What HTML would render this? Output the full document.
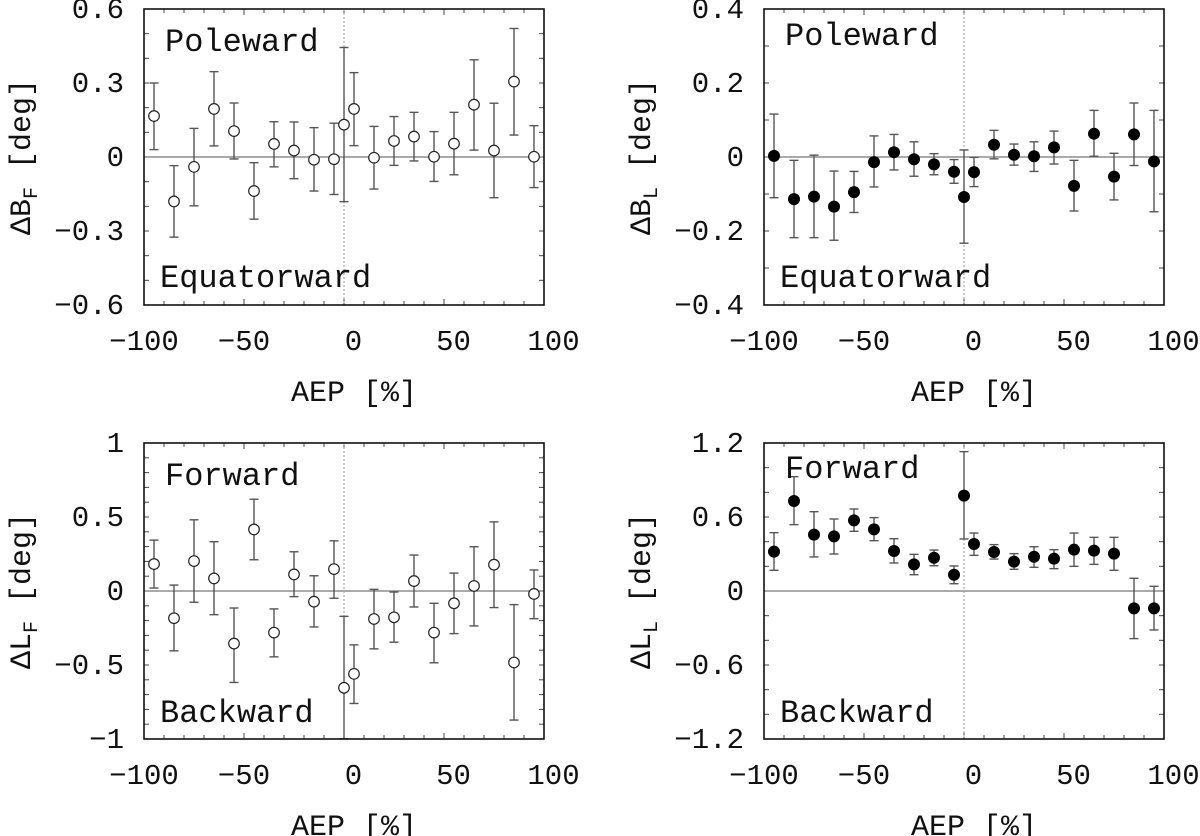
<!DOCTYPE html>
<html><head><meta charset="utf-8">
<style>
html,body{margin:0;padding:0;background:#fff;}
svg{display:block;}
text{font-family:"Liberation Mono","DejaVu Sans Mono",monospace;fill:#111;}
</style></head>
<body>
<svg id="fig" width="1200" height="836" viewBox="0 0 1200 836" xmlns="http://www.w3.org/2000/svg"></svg>
<script>
// Shared x categories (AEP %)
const aep = [-95,-85,-75,-65,-55,-45,-35,-25,-15,-5,0,5,15,25,35,45,55,65,75,85,95];
const xTicks = [-100,-50,0,50,100];

// Panel: Delta B_F (open circles)
const bfVal = [0.166,-0.18,-0.04,0.195,0.105,-0.138,0.053,0.026,-0.011,-0.009,0.131,0.195,-0.003,0.065,0.083,0.001,0.054,0.212,0.026,0.306,0.001];
const bfHi  = [0.30,-0.035,0.116,0.346,0.219,-0.023,0.143,0.142,0.119,0.137,0.444,0.342,0.124,0.164,0.181,0.103,0.181,0.394,0.218,0.521,0.127];
const bfLo  = [0.03,-0.325,-0.198,0.045,-0.008,-0.252,-0.04,-0.088,-0.138,-0.152,-0.181,0.046,-0.13,-0.034,-0.016,-0.099,-0.072,0.028,-0.165,0.089,-0.124];
const bfTicks = [0.6,0.3,0,-0.3,-0.6];
const bfTickLabels = ["0.6","0.3","0","\u22120.3","\u22120.6"];

// Panel: Delta B_L (filled)
const blVal = [0.003,-0.114,-0.107,-0.134,-0.095,-0.014,0.013,-0.006,-0.02,-0.04,-0.108,-0.041,0.033,0.006,0.002,0.026,-0.078,0.063,-0.053,0.061,-0.012];
const blHi  = [0.116,-0.009,0.005,-0.038,-0.039,0.057,0.061,0.041,0.009,-0.007,0.019,-0.001,0.072,0.035,0.041,0.07,-0.009,0.126,0.01,0.146,0.126];
const blLo  = [-0.11,-0.218,-0.218,-0.225,-0.15,-0.081,-0.035,-0.052,-0.048,-0.071,-0.233,-0.08,-0.005,-0.022,-0.039,-0.019,-0.146,0.002,-0.116,-0.023,-0.148];
const blTicks = [0.4,0.2,0,-0.2,-0.4];
const blTickLabels = ["0.4","0.2","0","\u22120.2","\u22120.4"];

// Panel: Delta L_F (open circles)
const lfVal = [0.182,-0.184,0.202,0.085,-0.355,0.416,-0.281,0.112,-0.072,0.148,-0.654,-0.56,-0.189,-0.178,0.067,-0.281,-0.083,0.034,0.178,-0.483,-0.02];
const lfHi  = [0.344,0.04,0.481,0.333,-0.115,0.62,-0.121,0.265,0.103,0.339,-0.171,-0.364,0.011,-0.007,0.243,-0.083,0.121,0.299,0.467,-0.092,0.142];
const lfLo  = [0.02,-0.404,-0.076,-0.16,-0.618,0.211,-0.445,-0.038,-0.243,-0.049,-0.998,-0.76,-0.391,-0.346,-0.108,-0.485,-0.288,-0.236,-0.112,-0.872,-0.187];
const lfTicks = [1,0.5,0,-0.5,-1];
const lfTickLabels = ["1","0.5","0","\u22120.5","\u22121"];

// Panel: Delta L_L (filled)
const llVal = [0.319,0.73,0.457,0.443,0.573,0.5,0.324,0.216,0.27,0.132,0.773,0.381,0.316,0.238,0.278,0.262,0.335,0.327,0.303,-0.141,-0.141];
const llHi  = [0.473,0.927,0.643,0.584,0.665,0.595,0.424,0.297,0.332,0.203,1.13,0.47,0.376,0.303,0.359,0.335,0.47,0.435,0.435,0.103,0.038];
const llLo  = [0.168,0.538,0.276,0.3,0.484,0.408,0.227,0.132,0.205,0.059,0.422,0.289,0.259,0.176,0.192,0.181,0.2,0.216,0.168,-0.386,-0.316];
const llTicks = [1.2,0.6,0,-0.6,-1.2];
const llTickLabels = ["1.2","0.6","0","\u22120.6","\u22121.2"];

const NS = "http://www.w3.org/2000/svg";
const svg = document.getElementById('fig');
function mk(tag, attrs, parent){
  const e = document.createElementNS(NS, tag);
  for (const k in attrs) e.setAttribute(k, attrs[k]);
  (parent||svg).appendChild(e);
  return e;
}

function panel(cfg){
  const {x0,x1,y0,y1,ymax,minorStep,vals,his,los,ticks,tickLabels,filled,sym,sub,topText,botText,topY,botY,topX,name} = cfg;
  const g = mk('g',{});
  
  
  const xs = v => x0 + (v+100)/200*(x1-x0);
  const ys = v => y0 + (ymax - v)/(2*ymax)*(y1-y0);
  // minor ticks x
  for (let v=-100; v<=100; v+=10){
    const X = xs(v), L = (v%50===0)?6:4;
    const t1 = mk('line',{x1:X,x2:X,y1:y1,y2:y1-L,stroke:'#444','stroke-width':1},g);
    
    
    mk('line',{x1:X,x2:X,y1:y0,y2:y0+L,stroke:'#444','stroke-width':1},g);
  }
  const nMinor = Math.round(2*ymax/minorStep);
  for (let i=0;i<=nMinor;i++){
    const Y = y0 + i*(y1-y0)/nMinor;
    const t = mk('line',{x1:x0,x2:x0+5,y1:Y,y2:Y,stroke:'#444','stroke-width':1},g);
    
    
    mk('line',{x1:x1,x2:x1-5,y1:Y,y2:Y,stroke:'#444','stroke-width':1},g);
  }
  // zero line & dotted vertical
  const z = mk('line',{x1:x0,x2:x1,y1:ys(0),y2:ys(0),stroke:'#777','stroke-width':1.3},g);
  
  
  const dv = mk('line',{x1:xs(0),x2:xs(0),y1:y0,y2:y1,stroke:'#999','stroke-width':1,'stroke-dasharray':'2,2'},g);
  
  
  // error bars & markers
  for (let i=0;i<aep.length;i++){
    const X = xs(aep[i]);
    const eb = mk('g',{stroke:'#555','stroke-width':1.4},g);
    
    
    mk('line',{x1:X,x2:X,y1:ys(his[i]),y2:ys(los[i])},eb);
    mk('line',{x1:X-4.5,x2:X+4.5,y1:ys(his[i]),y2:ys(his[i])},eb);
    mk('line',{x1:X-4.5,x2:X+4.5,y1:ys(los[i]),y2:ys(los[i])},eb);
    const c = mk('circle',{cx:X,cy:ys(vals[i]),r:filled?6:5.3,fill:filled?'#000':'#fff',stroke:'#222','stroke-width':filled?0:1.2},g);
    
    
  }
  // frame
  const fr = mk('rect',{x:x0,y:y0,width:x1-x0,height:y1-y0,fill:'none',stroke:'#111','stroke-width':1.6},g);
  
  
  // y tick labels
  for (let i=0;i<ticks.length;i++){
    const t = mk('text',{x:x0-20,y:ys(ticks[i])+9,'text-anchor':'end','font-size':29},g);
    t.textContent = tickLabels[i];
    
    
  }
  // x tick labels
  for (const v of xTicks){
    const t = mk('text',{x:xs(v)+(v>=0?9.5:0),y:y1+45,'text-anchor':'middle','font-size':29},g);
    t.textContent = v<0 ? '\u2212'+Math.abs(v) : String(v);
    
    
  }
  // x title
  const xt = mk('text',{x:(x0+x1)/2+10,y:y1+96,'text-anchor':'middle','font-size':30},g);
  xt.textContent = 'AEP [%]';
  
  
  // y title
  const cy = (y0+y1)/2, cx = x0-114;
  const yt = mk('text',{x:0,y:0,'text-anchor':'middle','font-size':30,transform:`translate(${cx},${cy}) rotate(-90)`},g);
  
  
  const s1 = mk('tspan',{},yt); s1.textContent='\u0394'+sym;
  const s2 = mk('tspan',{'font-size':20,dy:7},yt); s2.textContent=sub;
  const s3 = mk('tspan',{dy:-7},yt); s3.textContent=' [deg]';
  // annotations
  const tt = mk('text',{x:topX,y:topY,'font-size':32},g);
  tt.textContent = topText;
  
  
  const bt = mk('text',{x:x0+16,y:botY,'font-size':32},g);
  bt.textContent = botText;
  
  
}

panel({name:'delta-bf',x0:144,x1:544,y0:9,y1:305,ymax:0.6,minorStep:0.1,vals:bfVal,his:bfHi,los:bfLo,ticks:bfTicks,tickLabels:bfTickLabels,filled:false,sym:'B',sub:'F',topText:'Poleward',botText:'Equatorward',topX:165,topY:51,botY:287});
panel({name:'delta-bl',x0:764,x1:1164,y0:9,y1:305,ymax:0.4,minorStep:0.1,vals:blVal,his:blHi,los:blLo,ticks:blTicks,tickLabels:blTickLabels,filled:true,sym:'B',sub:'L',topText:'Poleward',botText:'Equatorward',topX:785,topY:45,botY:287});
panel({name:'delta-lf',x0:144,x1:544,y0:443,y1:739,ymax:1,minorStep:0.1,vals:lfVal,his:lfHi,los:lfLo,ticks:lfTicks,tickLabels:lfTickLabels,filled:false,sym:'L',sub:'F',topText:'Forward',botText:'Backward',topX:165,topY:485,botY:722});
panel({name:'delta-ll',x0:764,x1:1164,y0:443,y1:739,ymax:1.2,minorStep:0.2,vals:llVal,his:llHi,los:llLo,ticks:llTicks,tickLabels:llTickLabels,filled:true,sym:'L',sub:'L',topText:'Forward',botText:'Backward',topX:785,topY:478,botY:722});
</script>
</body></html>
